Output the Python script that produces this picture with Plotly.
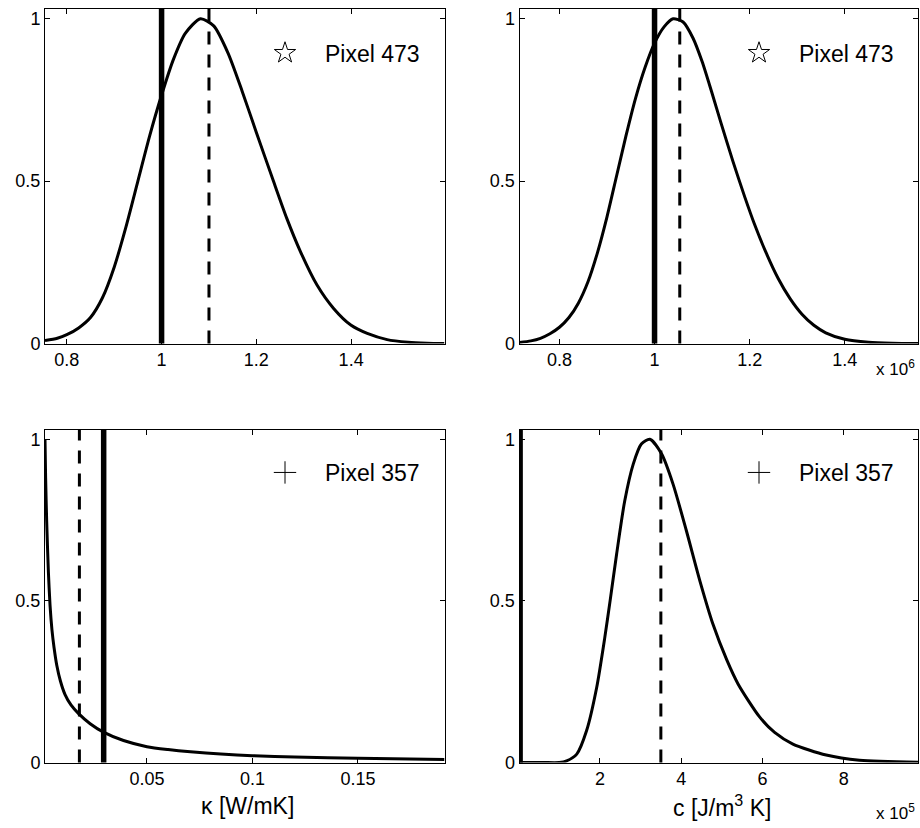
import plotly.graph_objects as go
from plotly.subplots import make_subplots

# ---------------- data ----------------
# Pixel 473, left panel: kappa (normalised posterior)
k473_x = [0.754, 0.78, 0.80, 0.825, 0.85, 0.875, 0.90, 0.925, 0.95, 0.975, 1.0, 1.025, 1.05,
          1.082, 1.11, 1.14, 1.17, 1.20, 1.236, 1.264, 1.293, 1.328, 1.363, 1.40, 1.434,
          1.476, 1.52, 1.56, 1.597]
k473_y = [0.009, 0.016, 0.027, 0.048, 0.08, 0.14, 0.235, 0.36, 0.50, 0.64, 0.765, 0.875, 0.955,
          1.0, 0.978, 0.895, 0.777, 0.65, 0.50, 0.386, 0.283, 0.18, 0.108, 0.056, 0.031,
          0.012, 0.004, 0.001, 0.0]
k473_true = 1.0
k473_est = 1.1

# Pixel 473, right panel: c (x 1e6)
c473_x = [0.716, 0.74, 0.76, 0.78, 0.80, 0.82, 0.84, 0.86, 0.88, 0.90, 0.92, 0.94, 0.96,
          0.98, 1.0, 1.02, 1.039, 1.06, 1.081, 1.10, 1.12, 1.14, 1.165, 1.19, 1.21, 1.235,
          1.26, 1.285, 1.31, 1.335, 1.36, 1.40, 1.45, 1.50, 1.554]
c473_y = [0.003, 0.008, 0.016, 0.03, 0.05, 0.08, 0.125, 0.19, 0.28, 0.39, 0.515, 0.64, 0.755,
          0.85, 0.925, 0.975, 1.0, 0.99, 0.94, 0.868, 0.775, 0.678, 0.56, 0.45, 0.368, 0.278,
          0.2, 0.138, 0.09, 0.056, 0.033, 0.013, 0.004, 0.001, 0.0]
c473_true = 1.0
c473_est = 1.053

# Pixel 357, left panel: kappa [W/mK]
k357_x = [0.0017, 0.0020, 0.0025, 0.0033, 0.0041, 0.005, 0.006, 0.0073, 0.009, 0.0112, 0.014,
          0.0175, 0.0231, 0.0294, 0.0389, 0.05, 0.06, 0.0706, 0.085, 0.10, 0.12, 0.15, 0.191]
k357_y = [1.0, 0.88, 0.745, 0.59, 0.485, 0.41, 0.355, 0.30, 0.252, 0.21, 0.178,
          0.152, 0.12, 0.094, 0.068, 0.049, 0.04, 0.033, 0.026, 0.021, 0.017, 0.013, 0.009]
k357_true = 0.0295
k357_est = 0.018

# Pixel 357, right panel: c [J/m^3 K] (x 1e5)
c357_x = [0.02, 0.6, 1.0, 1.18, 1.43, 1.67, 1.92, 2.12, 2.25, 2.41, 2.61, 2.82, 3.02, 3.23,
          3.52, 3.80, 4.13, 4.46, 4.79, 5.12, 5.40, 5.93, 6.30, 6.75, 7.57, 8.39, 9.83]
c357_y = [0.0, 0.0, 0.0, 0.005, 0.026, 0.098, 0.232, 0.387, 0.50, 0.644, 0.809, 0.923, 0.985,
          1.0, 0.954, 0.861, 0.716, 0.562, 0.425, 0.318, 0.243, 0.141, 0.093, 0.057, 0.023,
          0.007, 0.001]
c357_true = 0.035
c357_est = 3.5

panels = [
    dict(row=1, col=1, x=k473_x, y=k473_y, true=k473_true, est=k473_est,
         xrange=[0.754, 1.597], ticks=[0.8, 1.0, 1.2, 1.4], label="Pixel 473",
         symbol="star-open", legend="legend"),
    dict(row=1, col=2, x=c473_x, y=c473_y, true=c473_true, est=c473_est,
         xrange=[0.716, 1.554], ticks=[0.8, 1.0, 1.2, 1.4], label="Pixel 473",
         symbol="star-open", legend="legend2"),
    dict(row=2, col=1, x=k357_x, y=k357_y, true=k357_true, est=k357_est,
         xrange=[0.0017, 0.191], ticks=[0.05, 0.1, 0.15], label="Pixel 357",
         symbol="cross-thin-open", legend="legend3"),
    dict(row=2, col=2, x=c357_x, y=c357_y, true=c357_true, est=c357_est,
         xrange=[0.02, 9.83], ticks=[2, 4, 6, 8], label="Pixel 357",
         symbol="cross-thin-open", legend="legend4"),
]

FONT = "Liberation Sans, Arial, sans-serif"
W, H = 920, 828

fig = make_subplots(rows=2, cols=2)

for p in panels:
    r, c = p["row"], p["col"]
    fig.add_trace(go.Scatter(x=p["x"], y=p["y"], mode="lines",
                             line=dict(color="black", width=3, shape="spline", smoothing=0.7),
                             showlegend=False, hoverinfo="skip"), row=r, col=c)
    fig.add_vline(x=p["true"], line=dict(color="black", width=5.5), row=r, col=c)
    fig.add_vline(x=p["est"], line=dict(color="black", width=3, dash="13px,10px"), row=r, col=c)
    fig.add_trace(go.Scatter(x=[None], y=[None], mode="markers", name=p["label"],
                             marker=dict(symbol=p["symbol"], size=18, color="black",
                                         line=dict(color="black", width=1)),
                             legend=p["legend"], showlegend=True), row=r, col=c)
    fig.update_xaxes(range=p["xrange"], tickvals=p["ticks"], row=r, col=c)

axis_style = dict(showline=True, linecolor="black", linewidth=1, mirror="ticks",
                  ticks="inside", ticklen=5, tickcolor="black", tickwidth=1,
                  showgrid=False, zeroline=False, automargin=False,
                  tickfont=dict(family=FONT, size=18, color="black"))
fig.update_xaxes(**axis_style)
fig.update_yaxes(**axis_style, range=[0, 1.03], tickvals=[0, 0.5, 1])

# domains in pixels -> paper
left_x = [45 / W, 444.5 / W]
right_x = [519.5 / W, 918 / W]
top_y = [1 - 343.5 / H, 1 - 9 / H]
bot_y = [1 - 762.5 / H, 1 - 429.5 / H]
fig.update_layout(
    xaxis=dict(domain=left_x), yaxis=dict(domain=top_y),
    xaxis2=dict(domain=right_x), yaxis2=dict(domain=top_y),
    xaxis3=dict(domain=left_x), yaxis3=dict(domain=bot_y),
    xaxis4=dict(domain=right_x), yaxis4=dict(domain=bot_y),
)

leg_common = dict(font=dict(family=FONT, size=23, color="black"), bgcolor="rgba(0,0,0,0)",
                  borderwidth=0, itemwidth=70, xanchor="left", yanchor="middle",
                  itemclick=False, itemdoubleclick=False)
fig.update_layout(
    legend=dict(x=245 / W, y=1 - 53 / H, **leg_common),
    legend2=dict(x=719 / W, y=1 - 53 / H, **leg_common),
    legend3=dict(x=245 / W, y=1 - 472.5 / H, **leg_common),
    legend4=dict(x=719 / W, y=1 - 472.5 / H, **leg_common),
)

ann_font = dict(family=FONT, size=23, color="black")
fig.add_annotation(text="κ [W/mK]", x=247 / W, y=1 - 806 / H, xref="paper", yref="paper",
                   showarrow=False, xanchor="center", yanchor="middle", font=ann_font)
fig.add_annotation(text="c [J/m<sup>3</sup> K]", x=722 / W, y=1 - 806 / H, xref="paper",
                   yref="paper", showarrow=False, xanchor="center", yanchor="middle",
                   font=ann_font)
exp_font = dict(family=FONT, size=17, color="black")
fig.add_annotation(text="x 10<sup>6</sup>", x=917 / W, y=1 - 368 / H, xref="paper",
                   yref="paper", showarrow=False, xanchor="right", yanchor="middle",
                   font=exp_font)
fig.add_annotation(text="x 10<sup>5</sup>", x=917 / W, y=1 - 812 / H, xref="paper",
                   yref="paper", showarrow=False, xanchor="right", yanchor="middle",
                   font=exp_font)

fig.update_layout(width=W, height=H, margin=dict(l=0, r=0, t=0, b=0, autoexpand=False),
                  paper_bgcolor="white", plot_bgcolor="white",
                  font=dict(family=FONT, color="black"))

fig.write_html("out.html", config={"displayModeBar": False},
               post_script="document.body.style.margin='0';document.body.style.overflow='hidden';")
